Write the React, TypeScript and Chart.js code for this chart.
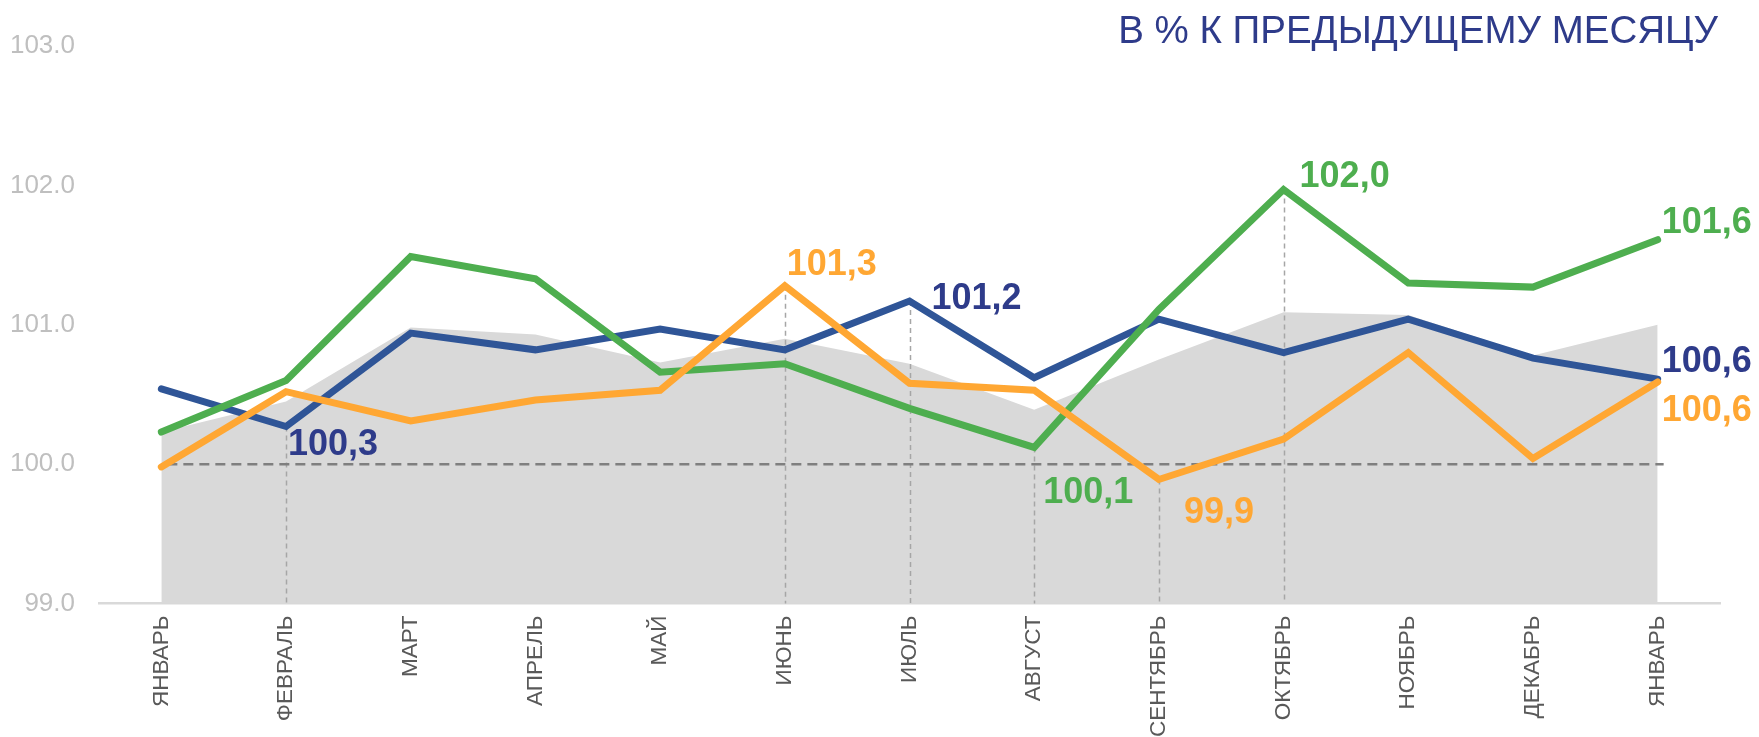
import React, { useEffect, useRef } from "react";
import { Chart, registerables } from "chart.js";

Chart.register(...registerables);

// ---------- data ----------
const months = [
  "ЯНВАРЬ", "ФЕВРАЛЬ", "МАРТ", "АПРЕЛЬ", "МАЙ", "ИЮНЬ", "ИЮЛЬ",
  "АВГУСТ", "СЕНТЯБРЬ", "ОКТЯБРЬ", "НОЯБРЬ", "ДЕКАБРЬ", "ЯНВАРЬ",
];
const blueSeries = [100.54, 100.27, 100.94, 100.82, 100.97, 100.82, 101.17, 100.62, 101.04, 100.80, 101.04, 100.76, 100.61];
const greenSeries = [100.23, 100.60, 101.49, 101.33, 100.66, 100.72, 100.40, 100.12, 101.11, 101.97, 101.30, 101.27, 101.61];
const orangeSeries = [99.98, 100.52, 100.31, 100.46, 100.53, 101.28, 100.58, 100.53, 99.89, 100.18, 100.80, 100.04, 100.59];
const grayAreaSeries = [100.23, 100.45, 100.98, 100.93, 100.73, 100.90, 100.72, 100.39, 100.75, 101.09, 101.07, 100.78, 101.00];
const yMin = 99;
const yMax = 103;
const yStep = 1;
const referenceLevel = 100;
const titleText = "В % К ПРЕДЫДУЩЕМУ МЕСЯЦУ";

// which points carry a value label / drop line
const blueLabelIdx = [1, 6, 12];
const greenLabelIdx = [7, 9, 12];
const orangeLabelIdx = [5, 8, 12];
const blueDropIdx = [1, 6];
const greenDropIdx = [7, 9];
const orangeDropIdx = [5, 8];

// ---------- styles ----------
const FONT = "'Liberation Sans', Arial, Helvetica, sans-serif";
const LINE_COLORS: Record<string, string> = { blue: "#2F5597", green: "#4EAE4F", orange: "#FFA733" };
const LABEL_COLORS: Record<string, string> = { blue: "#2E3B8A", green: "#4EAE4F", orange: "#FFA733" };
const LABEL_OFFSETS: Record<string, [number, number]> = {
  "blue-1": [2, 19],
  "blue-6": [22, -2],
  "blue-12": [4, -17],
  "green-7": [9, 46],
  "green-9": [16, -12],
  "green-12": [4, -17],
  "orange-5": [2, -21],
  "orange-8": [25, 34],
  "orange-12": [4, 29],
};

export default function App() {
  const ref = useRef<HTMLCanvasElement | null>(null);

  useEffect(() => {
    const canvas = ref.current;
    if (!canvas) return;
    const seriesMap: Record<string, number[]> = { blue: blueSeries, green: greenSeries, orange: orangeSeries };
    const labelIdx: Record<string, number[]> = { blue: blueLabelIdx, green: greenLabelIdx, orange: orangeLabelIdx };
    const dropIdx: Record<string, number[]> = { blue: blueDropIdx, green: greenDropIdx, orange: orangeDropIdx };
    const GRAY_INDEX = 3;
    const n = months.length;

    const decor = {
      id: "decor",
      afterDatasetDraw(chart: any, args: any) {
        if (args.index !== GRAY_INDEX) return;
        const { ctx, chartArea, scales } = chart;
        const x = scales.x;
        const y = scales.y;
        ctx.save();
        ctx.strokeStyle = "#A6A6A6";
        ctx.lineWidth = 1.5;
        ctx.setLineDash([5, 4]);
        for (const key of Object.keys(dropIdx)) {
          for (const i of dropIdx[key]) {
            const px = Math.round(x.getPixelForValue(i)) + 0.5;
            const py = y.getPixelForValue(seriesMap[key][i]);
            ctx.beginPath();
            ctx.moveTo(px, py);
            ctx.lineTo(px, chartArea.bottom);
            ctx.stroke();
          }
        }
        const ry = y.getPixelForValue(referenceLevel);
        ctx.strokeStyle = "#7F7F7F";
        ctx.lineWidth = 2.5;
        ctx.setLineDash([10, 6]);
        ctx.beginPath();
        ctx.moveTo(x.getPixelForValue(0) + 6, ry);
        ctx.lineTo(x.getPixelForValue(n - 1) + 6, ry);
        ctx.stroke();
        ctx.restore();
      },
      afterDatasetsDraw(chart: any) {
        const { ctx, scales } = chart;
        const x = scales.x;
        const y = scales.y;
        ctx.save();
        ctx.font = `bold 36px ${FONT}`;
        ctx.textAlign = "left";
        ctx.textBaseline = "middle";
        for (const key of Object.keys(labelIdx)) {
          for (const i of labelIdx[key]) {
            const v = seriesMap[key][i];
            const off = LABEL_OFFSETS[`${key}-${i}`] || [0, 0];
            ctx.fillStyle = LABEL_COLORS[key];
            ctx.fillText(v.toFixed(1).replace(".", ","), x.getPixelForValue(i) + off[0], y.getPixelForValue(v) + off[1]);
          }
        }
        ctx.font = `38.5px ${FONT}`;
        ctx.textAlign = "right";
        ctx.textBaseline = "alphabetic";
        ctx.fillStyle = "#2E3B8A";
        ctx.fillText(titleText, 1718, 43);
        ctx.restore();
      },
    };

    const lineDs = (key: string) => ({
      label: key,
      data: seriesMap[key],
      borderColor: LINE_COLORS[key],
      backgroundColor: LINE_COLORS[key],
      borderWidth: 7,
      borderCapStyle: "round",
      borderJoinStyle: "miter",
      pointRadius: 0,
      pointHoverRadius: 0,
      tension: 0,
      fill: false,
    });

    const chart = new Chart(canvas, {
      type: "line",
      data: {
        labels: months,
        datasets: [
          lineDs("orange"),
          lineDs("green"),
          lineDs("blue"),
          {
            label: "area",
            data: grayAreaSeries,
            borderWidth: 0,
            borderColor: "rgba(0,0,0,0)",
            backgroundColor: "#D9D9D9",
            pointRadius: 0,
            pointHoverRadius: 0,
            tension: 0,
            fill: "start",
          } as any,
        ],
      },
      options: {
        responsive: false,
        animation: false,
        events: [],
        layout: { padding: { top: 46, right: 39, left: 0, bottom: 0 } },
        plugins: { legend: { display: false }, tooltip: { enabled: false }, title: { display: false } },
        scales: {
          x: {
            offset: true,
            grid: { display: false, drawTicks: false },
            border: { display: true, color: "#D9D9D9", width: 2.5 },
            ticks: {
              autoSkip: false,
              maxRotation: 90,
              minRotation: 90,
              padding: 12,
              color: "#595959",
              font: { family: FONT, size: 22.5 },
            },
            afterFit: (s: any) => { s.height = 133.5; },
          },
          y: {
            min: yMin,
            max: yMax,
            grid: { display: false, drawTicks: false },
            border: { display: false },
            ticks: {
              stepSize: yStep,
              padding: 24,
              color: "#BFBFBF",
              font: { family: FONT, size: 26 },
              callback: (v: any) => Number(v).toFixed(1),
            },
            afterFit: (s: any) => { s.width = 99; },
          },
        },
      } as any,
      plugins: [decor],
    });
    return () => chart.destroy();
  }, []);

  return (
    <div style={{ position: "fixed", left: 0, top: 0, width: 1759, height: 737, background: "#fff" }}>
      <canvas ref={ref} width={1759} height={737} style={{ display: "block" }} />
    </div>
  );
}
